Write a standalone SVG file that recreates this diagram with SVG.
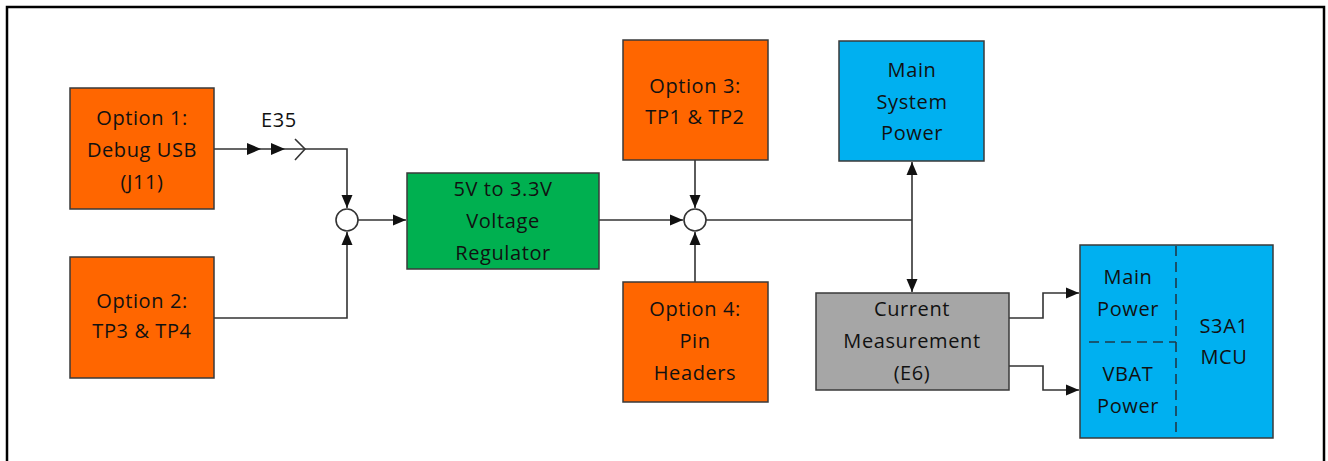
<svg xmlns="http://www.w3.org/2000/svg" width="1328" height="461" viewBox="0 0 1328 461">
<style>
.box{stroke:#3a3a3a;stroke-width:1.5}
.org{fill:#FF6600}
.grn{fill:#00B050}
.blu{fill:#00B0F0}
.gry{fill:#A6A6A6}
text{font-family:"Open Sans","Noto Sans","DejaVu Sans",sans-serif;font-size:20px;fill:#111;text-anchor:middle;letter-spacing:0.6px}
.ln{fill:none;stroke:#333;stroke-width:1.6}
.dash{fill:none;stroke:#1e3a4a;stroke-width:1.6;stroke-dasharray:10 6}
</style>
<defs>
<marker id="ah" markerWidth="14" markerHeight="14" refX="13" refY="7" orient="auto" markerUnits="userSpaceOnUse">
<path d="M0,1.5 L13,7 L0,12.5 Z" fill="#111"/>
</marker>
</defs>
<rect x="7" y="7" width="1317" height="470" fill="#fff" stroke="#000" stroke-width="2.5"/>

<g id="connectors">
<path class="ln" d="M214,149 H347 V208" marker-end="url(#ah)"/>
<path d="M247,143 L261,149 L247,155 Z" fill="#111"/>
<path d="M271,143 L285,149 L271,155 Z" fill="#111"/>
<path class="ln" d="M295,139 L305,149 L295,160"/>
<path class="ln" d="M214,318 H347 V232" marker-end="url(#ah)"/>
<path class="ln" d="M358,220 H406" marker-end="url(#ah)"/>
<path class="ln" d="M599,220 H683" marker-end="url(#ah)"/>
<path class="ln" d="M695,160 V208" marker-end="url(#ah)"/>
<path class="ln" d="M695,282 V232" marker-end="url(#ah)"/>
<path class="ln" d="M706,220 H912"/>
<path class="ln" d="M912,220 V162" marker-end="url(#ah)"/>
<path class="ln" d="M912,220 V292" marker-end="url(#ah)"/>
<path class="ln" d="M1009,318 H1043 V293 H1079" marker-end="url(#ah)"/>
<path class="ln" d="M1009,366 H1043 V390 H1079" marker-end="url(#ah)"/>
</g>

<g id="junction1"><circle cx="347" cy="220" r="11" fill="#fff" stroke="#333" stroke-width="1.6"/></g>
<g id="junction2"><circle cx="695" cy="220" r="11" fill="#fff" stroke="#333" stroke-width="1.6"/></g>

<g id="e35label"><text x="279" y="127">E35</text></g>

<g id="option1">
<rect class="box org" x="70" y="88" width="144" height="121"/>
<text x="142" y="125">Option 1:</text>
<text x="142" y="157">Debug USB</text>
<text x="142" y="189">(J11)</text>
</g>

<g id="option2">
<rect class="box org" x="70" y="257" width="144" height="121"/>
<text x="142" y="308">Option 2:</text>
<text x="142" y="338">TP3 &amp; TP4</text>
</g>

<g id="regulator">
<rect class="box grn" x="407" y="173" width="192" height="96"/>
<text x="503" y="196">5V to 3.3V</text>
<text x="503" y="228">Voltage</text>
<text x="503" y="260">Regulator</text>
</g>

<g id="option3">
<rect class="box org" x="623" y="40" width="145" height="120"/>
<text x="695" y="93">Option 3:</text>
<text x="695" y="124">TP1 &amp; TP2</text>
</g>

<g id="option4">
<rect class="box org" x="623" y="282" width="145" height="120"/>
<text x="695" y="316">Option 4:</text>
<text x="695" y="348">Pin</text>
<text x="695" y="380">Headers</text>
</g>

<g id="mainsystempower">
<rect class="box blu" x="839" y="41" width="145" height="120"/>
<text x="912" y="77">Main</text>
<text x="912" y="109">System</text>
<text x="912" y="140">Power</text>
</g>

<g id="currentmeasurement">
<rect class="box gry" x="816" y="293" width="193" height="97"/>
<text x="912" y="316">Current</text>
<text x="912" y="348">Measurement</text>
<text x="912" y="380">(E6)</text>
</g>

<g id="mcu">
<rect class="box blu" x="1080" y="245" width="193" height="193"/>
<path class="dash" d="M1176,246 V437"/>
<path class="dash" d="M1089,342 H1176"/>
<text x="1128" y="284">Main</text>
<text x="1128" y="316">Power</text>
<text x="1128" y="381">VBAT</text>
<text x="1128" y="413">Power</text>
<text x="1224" y="333">S3A1</text>
<text x="1224" y="364">MCU</text>
</g>
</svg>
